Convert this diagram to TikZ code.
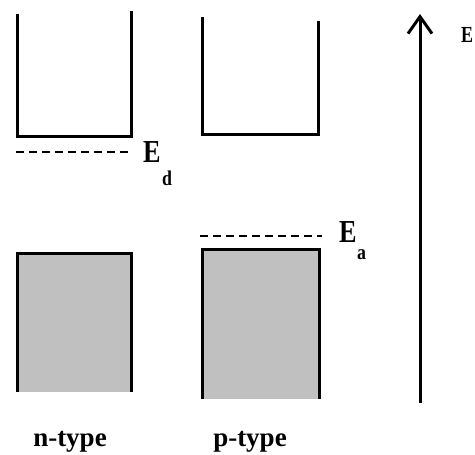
\documentclass[tikz,border=0pt]{standalone}
\usepackage{fontspec}
\setmainfont{Liberation Serif}
\usetikzlibrary{arrows.meta}
\definecolor{bandgrey}{HTML}{C0C0C0}
\tikzset{
  band/.style={line width=3pt, line cap=butt, line join=miter},
  filled/.style={fill=bandgrey},
  level/.style={line width=1.8pt, dash pattern=on 8pt off 5pt},
  lbl/.style={inner sep=0pt, font=\fontsize{32}{32}\selectfont\bfseries, xscale=0.82, transform shape},
  sub/.style={inner sep=0pt, font=\fontsize{21}{21}\selectfont\bfseries, xscale=0.85, transform shape},
  caption/.style={inner sep=0pt, font=\fontsize{27}{27}\selectfont\bfseries}
}
\begin{document}
\begin{tikzpicture}[x=1pt,y=-1pt]
\useasboundingbox (0,0) rectangle (475,455);

% n-type: conduction band (open top) and valence band (filled)
\draw[band] (17,14) -- (17,136) -- (131,136) -- (131,11);
\fill[filled] (17,253) rectangle (131,392);
\draw[band] (17,392) -- (17,253) -- (131,253) -- (131,392);
\draw[level] (16,152) -- (131,152);
\node[lbl, anchor=west] (Ed) at (143,152) {E};
\node[sub, anchor=west] (d) at (162,178) {d};

% p-type: conduction band (open top) and valence band (filled)
\draw[band] (202,17) -- (202,134) -- (318,134) -- (318,21);
\fill[filled] (202,249) rectangle (319,399);
\draw[band] (202,399) -- (202,249) -- (319,249) -- (319,399);
\draw[level] (200,236) -- (322,236);
\node[lbl, anchor=west] (Ea) at (339,232) {E};
\node[sub, anchor=west] (a) at (357,255) {a};

% energy axis
\coordinate (axbot) at (420,403);
\coordinate (axtop) at (420,14);
\draw[line width=3pt, -{Straight Barb[length=17pt,width=24pt,line width=3pt]}] (axbot) -- (axtop);
\node[inner sep=0pt, font=\fontsize{23}{23}\selectfont\bfseries, xscale=0.78, transform shape, anchor=west] (E) at (461,35) {E};

% captions
\node[caption] (ntype) at (70,442) {n-type};
\node[caption] (ptype) at (250,442) {p-type};
\end{tikzpicture}
\end{document}
